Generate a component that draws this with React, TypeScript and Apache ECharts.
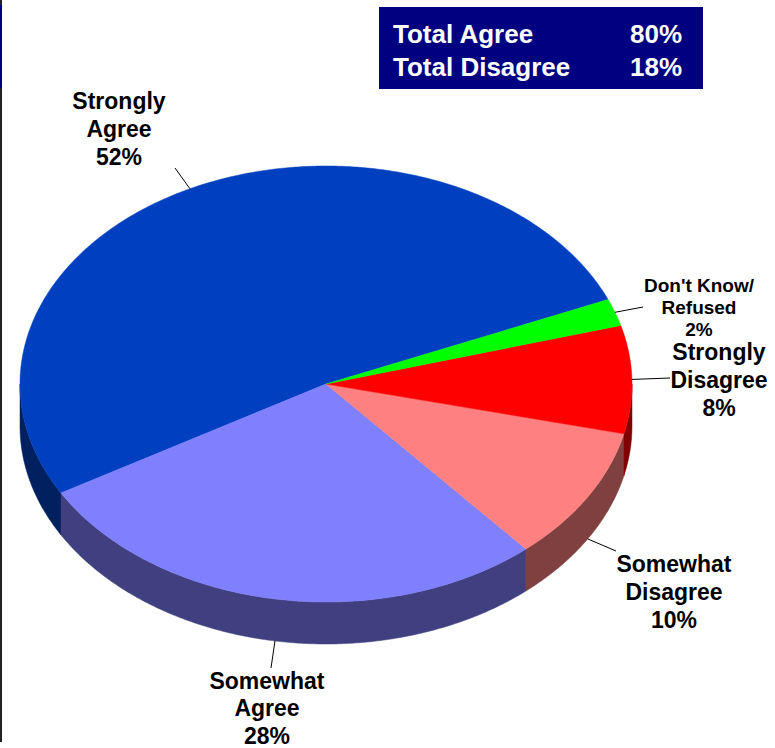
import React, { useEffect, useRef } from "react";
import * as echarts from "echarts";

// ---- data ----
const categories = ["Strongly Agree", "Somewhat Agree", "Somewhat Disagree", "Strongly Disagree", "Don't Know/ Refused"];
const labelTexts = ["Strongly\nAgree", "Somewhat\nAgree", "Somewhat\nDisagree", "Strongly\nDisagree", "Don't Know/\nRefused"];
const values = [52, 28, 10, 8, 2];
const summaryLabels = ["Total Agree", "Total Disagree"];
const agreeIdx = [0, 1];
const disagreeIdx = [2, 3];

// ---- styles / layout ----
const TOP_COLORS = ["#0040C0", "#8080FF", "#FF8080", "#FF0000", "#00FF00"];
const SIDE_COLORS = ["#002060", "#404080", "#804040", "#800000", "#008000"];
const FONT = "Arial, 'Liberation Sans', Helvetica, sans-serif";
const CX = 326;
const CY = 384;
const RX = 306;
const RY = 218;
const DEPTH = 42;
const START = 22.8; // degrees, counter-clockwise from +x
const LABEL_LAYOUT = [
  { tx: 119, ty: 129, lx: 175, ly: 168, size: 23, lh: 28 },
  { tx: 267, ty: 708, lx: 271, ly: 668, size: 23, lh: 27.5 },
  { tx: 674, ty: 592, lx: 616, ly: 551, size: 23, lh: 28 },
  { tx: 719, ty: 380, lx: 670, ly: 378, size: 23, lh: 28 },
  { tx: 699, ty: 307, lx: 643, ly: 307, size: 19, lh: 22 },
];

const TOTAL = values.reduce((a, b) => a + b, 0);

function angles(i: number): [number, number] {
  let acc = 0;
  for (let j = 0; j < i; j++) acc += values[j];
  const a0 = START + (acc / TOTAL) * 360;
  const a1 = a0 + (values[i] / TOTAL) * 360;
  return [a0, a1];
}

function pt(deg: number, dy = 0): number[] {
  const r = (deg * Math.PI) / 180;
  return [CX + RX * Math.cos(r), CY - RY * Math.sin(r) + dy];
}

function arc(a0: number, a1: number, dy = 0): number[][] {
  const n = Math.max(2, Math.ceil(Math.abs(a1 - a0) / 0.5));
  const pts: number[][] = [];
  for (let k = 0; k <= n; k++) pts.push(pt(a0 + ((a1 - a0) * k) / n, dy));
  return pts;
}

export default function App() {
  const ref = useRef<HTMLDivElement>(null);
  useEffect(() => {
    document.body.style.margin = "0";
    const chart = echarts.init(ref.current!, null, { renderer: "svg" });
    const data = values.map((v, i) => [i, v]);
    const agree = agreeIdx.reduce((s, i) => s + values[i], 0);
    const disagree = disagreeIdx.reduce((s, i) => s + values[i], 0);
    const summaryValues = [agree, disagree];

    chart.setOption({
      animation: false,
      backgroundColor: "#FFFFFF",
      graphic: [
        { type: "rect", left: 0, top: 0, shape: { x: 0, y: 0, width: 2, height: 742 }, style: { fill: "#222222" }, z: 1 },
        { type: "rect", left: 0, top: 5, shape: { x: 0, y: 0, width: 2, height: 83 }, style: { fill: "#000080" }, z: 2 },
        { type: "rect", shape: { x: 379, y: 7, width: 324, height: 82 }, style: { fill: "#000080" }, z: 5 },
        ...summaryLabels.flatMap((t, i) => [
          {
            type: "text",
            z: 6,
            style: { text: t, x: 393, y: 34 + i * 33, fill: "#FFFFFF", font: `bold 26px ${FONT}`, verticalAlign: "middle", align: "left" },
          },
          {
            type: "text",
            z: 6,
            style: { text: `${summaryValues[i]}%`, x: 630, y: 34 + i * 33, fill: "#FFFFFF", font: `bold 26px ${FONT}`, verticalAlign: "middle", align: "left" },
          },
        ]),
      ],
      series: [
        {
          type: "custom",
          name: "sides",
          coordinateSystem: "none",
          z: 1,
          data,
          renderItem: (params: any, api: any) => {
            const i = params.dataIndex;
            const [a0, a1] = angles(i);
            const children: any[] = [];
            for (let base = 180; base < a1 + 360; base += 360) {
              const s = Math.max(a0, base);
              const e = Math.min(a1, base + 180);
              if (e > s) {
                const top = arc(s, e, 0);
                const bottom = arc(e, s, DEPTH);
                children.push({
                  type: "polygon",
                  shape: { points: top.concat(bottom) },
                  style: { fill: SIDE_COLORS[i], stroke: SIDE_COLORS[i], lineWidth: 0.5 },
                });
              }
            }
            return { type: "group", children };
          },
        },
        {
          type: "custom",
          name: "tops",
          coordinateSystem: "none",
          z: 2,
          data,
          renderItem: (params: any, api: any) => {
            const i = params.dataIndex;
            const [a0, a1] = angles(i);
            const pts = [[CX, CY]].concat(arc(a0, a1, 0));
            const mid = (a0 + a1) / 2;
            const midSin = Math.sin((mid * Math.PI) / 180);
            const start = pt(mid, midSin < -0.3 ? DEPTH : 0);
            const L = LABEL_LAYOUT[i];
            return {
              type: "group",
              children: [
                {
                  type: "polygon",
                  shape: { points: pts },
                  style: { fill: TOP_COLORS[i], stroke: TOP_COLORS[i], lineWidth: 0.5 },
                },
                {
                  type: "line",
                  shape: { x1: start[0], y1: start[1], x2: L.lx, y2: L.ly },
                  style: { stroke: "#000000", lineWidth: 1 },
                },
                {
                  type: "text",
                  style: {
                    text: `${labelTexts[i]}\n${api.value(1)}%`,
                    x: L.tx,
                    y: L.ty,
                    align: "center",
                    verticalAlign: "middle",
                    font: `bold ${L.size}px ${FONT}`,
                    lineHeight: L.lh,
                    fill: "#000000",
                  },
                },
              ],
            };
          },
        },
      ],
    });
    return () => chart.dispose();
  }, []);
  return <div ref={ref} style={{ position: "absolute", left: 0, top: 0, width: 775, height: 748 }} />;
}
